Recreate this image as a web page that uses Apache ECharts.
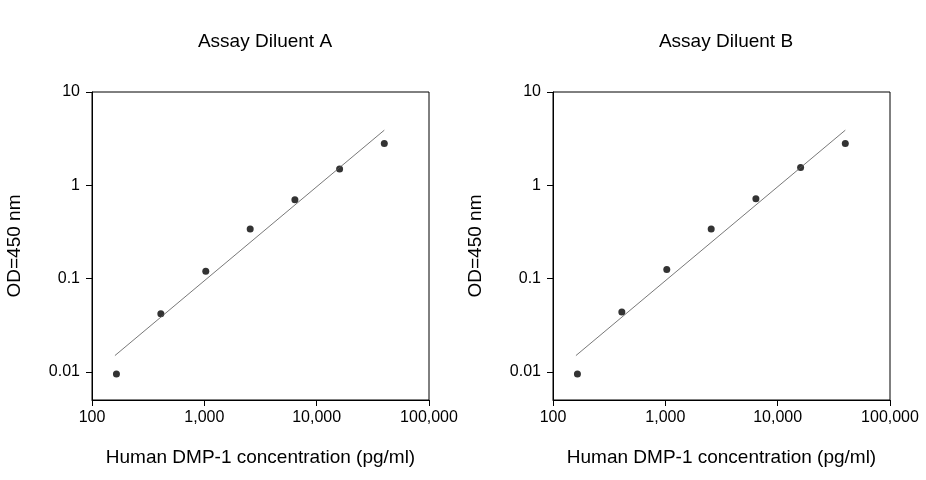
<!DOCTYPE html>
<html>
<head>
<meta charset="utf-8">
<script src="https://cdn.jsdelivr.net/npm/echarts@6/dist/echarts.min.js"></script>
</head>
<body style="margin:0">
<div id="c" style="width:926px;height:480px"></div>
<script>
var titles = ['Assay Diluent A', 'Assay Diluent B'];
var conc = [165, 410, 1030, 2560, 6400, 16000, 40000];
var odA = [0.0095, 0.042, 0.12, 0.34, 0.7, 1.5, 2.8];
var odB = [0.0095, 0.044, 0.125, 0.34, 0.72, 1.55, 2.8];
var fitA = [[160, 0.015], [40000, 3.9]];
var fitB = [[160, 0.015], [40000, 3.9]];
var xTicks = [100, 1000, 10000, 100000];
var yTicks = [0.01, 0.1, 1, 10];

var font = 'Liberation Sans, Arial, sans-serif';
var lg = Math.log10;
function pts(xs, ys) { return xs.map(function (x, i) { return [lg(x), lg(ys[i])]; }); }
function fit(f) { return f.map(function (p) { return [lg(p[0]), lg(p[1])]; }); }
function fmtX(v) { return Math.round(Math.pow(10, v)).toLocaleString('en-US'); }
function fmtY(v) { return String(+Math.pow(10, v).toPrecision(2)); }

var lefts = [92, 553];
var option = { title: [], grid: [], xAxis: [], yAxis: [], series: [] };
var sets = [[odA, fitA], [odB, fitB]];
for (var i = 0; i < 2; i++) {
  option.title.push({ text: titles[i], left: lefts[i] + 168, top: 27, textAlign: 'center',
    textStyle: { fontFamily: font, fontSize: 19, fontWeight: 'normal', color: '#000' } });
  option.grid.push({ left: lefts[i], width: 337, top: 92, height: 308, show: true,
    borderColor: '#000', borderWidth: 1, backgroundColor: 'transparent' });
  option.xAxis.push({ gridIndex: i, type: 'value', min: 2, max: 5,
    name: 'Human DMP-1 concentration (pg/ml)', nameLocation: 'middle', nameGap: 48,
    nameTextStyle: { fontFamily: font, fontSize: 19, color: '#000' },
    axisLine: { onZero: false, lineStyle: { color: '#000' } },
    axisTick: { customValues: xTicks.map(lg), lineStyle: { color: '#000' }, length: 6 },
    axisLabel: { customValues: xTicks.map(lg), formatter: fmtX, fontFamily: font, fontSize: 16, color: '#000', margin: 10 },
    splitLine: { show: false } });
  option.yAxis.push({ gridIndex: i, type: 'value', min: -2.3, max: 1,
    name: 'OD=450 nm', nameLocation: 'middle', nameGap: 68,
    nameTextStyle: { fontFamily: font, fontSize: 19, color: '#000' },
    axisLine: { onZero: false, lineStyle: { color: '#000' } },
    axisTick: { customValues: yTicks.map(lg), lineStyle: { color: '#000' }, length: 6 },
    axisLabel: { customValues: yTicks.map(lg), formatter: fmtY, fontFamily: font, fontSize: 16, color: '#000', margin: 12 },
    splitLine: { show: false } });
  option.series.push({ type: 'line', xAxisIndex: i, yAxisIndex: i, data: fit(sets[i][1]),
    symbol: 'none', lineStyle: { color: '#555', width: 0.8 }, silent: true });
  option.series.push({ type: 'scatter', xAxisIndex: i, yAxisIndex: i, data: pts(conc, sets[i][0]),
    symbolSize: 7, itemStyle: { color: '#000' } });
}
echarts.init(document.getElementById('c')).setOption(option);
</script>
</body>
</html>
